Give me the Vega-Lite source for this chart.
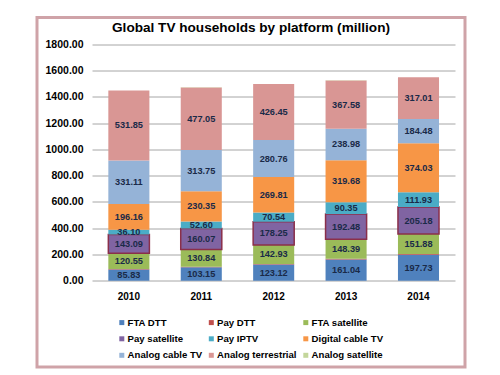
{
  "$schema": "https://vega.github.io/schema/vega-lite/v6.json",
  "width": 428,
  "height": 349.5,
  "autosize": "none",
  "padding": {"left": 37, "top": 17.5, "right": 35, "bottom": 8},
  "background": "white",
  "title": {
    "text": "Global TV households by platform (million)",
    "frame": "group",
    "anchor": "middle",
    "offset": -17,
    "font": "Liberation Sans",
    "fontSize": 13.6,
    "fontWeight": "bold",
    "color": "black"
  },
  "config": {
    "view": {"stroke": "#cfa3a8", "strokeWidth": 3, "fill": "white"},
    "font": "Liberation Sans"
  },
  "data": {
    "values": [
      {"year": "2010", "platform": "FTA DTT", "value": 85.83, "order": 1},
      {"year": "2010", "platform": "Pay DTT", "value": 3, "order": 2},
      {"year": "2010", "platform": "FTA satellite", "value": 120.55, "order": 3},
      {"year": "2010", "platform": "Pay satellite", "value": 143.09, "order": 4},
      {"year": "2010", "platform": "Pay IPTV", "value": 36.10, "order": 5},
      {"year": "2010", "platform": "Digital cable TV", "value": 196.16, "order": 6},
      {"year": "2010", "platform": "Analog cable TV", "value": 331.11, "order": 7},
      {"year": "2010", "platform": "Analog terrestrial", "value": 531.85, "order": 8},
      {"year": "2010", "platform": "Analog satellite", "value": 1, "order": 9},
      {"year": "2011", "platform": "FTA DTT", "value": 103.15, "order": 1},
      {"year": "2011", "platform": "Pay DTT", "value": 4, "order": 2},
      {"year": "2011", "platform": "FTA satellite", "value": 130.84, "order": 3},
      {"year": "2011", "platform": "Pay satellite", "value": 160.07, "order": 4},
      {"year": "2011", "platform": "Pay IPTV", "value": 52.60, "order": 5},
      {"year": "2011", "platform": "Digital cable TV", "value": 230.35, "order": 6},
      {"year": "2011", "platform": "Analog cable TV", "value": 313.75, "order": 7},
      {"year": "2011", "platform": "Analog terrestrial", "value": 477.05, "order": 8},
      {"year": "2011", "platform": "Analog satellite", "value": 1, "order": 9},
      {"year": "2012", "platform": "FTA DTT", "value": 123.12, "order": 1},
      {"year": "2012", "platform": "Pay DTT", "value": 5, "order": 2},
      {"year": "2012", "platform": "FTA satellite", "value": 142.93, "order": 3},
      {"year": "2012", "platform": "Pay satellite", "value": 178.25, "order": 4},
      {"year": "2012", "platform": "Pay IPTV", "value": 70.54, "order": 5},
      {"year": "2012", "platform": "Digital cable TV", "value": 269.81, "order": 6},
      {"year": "2012", "platform": "Analog cable TV", "value": 280.76, "order": 7},
      {"year": "2012", "platform": "Analog terrestrial", "value": 426.45, "order": 8},
      {"year": "2012", "platform": "Analog satellite", "value": 1, "order": 9},
      {"year": "2013", "platform": "FTA DTT", "value": 161.04, "order": 1},
      {"year": "2013", "platform": "Pay DTT", "value": 6, "order": 2},
      {"year": "2013", "platform": "FTA satellite", "value": 148.39, "order": 3},
      {"year": "2013", "platform": "Pay satellite", "value": 192.48, "order": 4},
      {"year": "2013", "platform": "Pay IPTV", "value": 90.35, "order": 5},
      {"year": "2013", "platform": "Digital cable TV", "value": 319.68, "order": 6},
      {"year": "2013", "platform": "Analog cable TV", "value": 238.98, "order": 7},
      {"year": "2013", "platform": "Analog terrestrial", "value": 367.58, "order": 8},
      {"year": "2013", "platform": "Analog satellite", "value": 1, "order": 9},
      {"year": "2014", "platform": "FTA DTT", "value": 197.73, "order": 1},
      {"year": "2014", "platform": "Pay DTT", "value": 6, "order": 2},
      {"year": "2014", "platform": "FTA satellite", "value": 151.88, "order": 3},
      {"year": "2014", "platform": "Pay satellite", "value": 205.18, "order": 4},
      {"year": "2014", "platform": "Pay IPTV", "value": 111.93, "order": 5},
      {"year": "2014", "platform": "Digital cable TV", "value": 374.03, "order": 6},
      {"year": "2014", "platform": "Analog cable TV", "value": 184.48, "order": 7},
      {"year": "2014", "platform": "Analog terrestrial", "value": 317.01, "order": 8},
      {"year": "2014", "platform": "Analog satellite", "value": 1, "order": 9}
    ]
  },
  "encoding": {
    "x": {
      "field": "year",
      "type": "nominal",
      "scale": {"paddingInner": 0.433, "paddingOuter": 0.672, "align": 0.733},
      "axis": {
        "orient": "bottom",
        "offset": -86,
        "domain": false,
        "ticks": false,
        "labelAngle": 0,
        "labelPadding": 10,
        "labelFont": "Liberation Sans",
        "labelFontSize": 10,
        "labelFontWeight": "bold",
        "labelColor": "black",
        "title": null
      }
    },
    "y": {
      "field": "value",
      "type": "quantitative",
      "stack": "zero",
      "scale": {"domain": [-657, 2004], "nice": false, "zero": false},
      "axis": {
        "orient": "left",
        "offset": -55,
        "values": [0, 200, 400, 600, 800, 1000, 1200, 1400, 1600, 1800],
        "format": ".2f",
        "domain": false,
        "grid": false,
        "ticks": true,
        "tickSize": -363,
        "tickColor": "#a6a6a6",
        "tickWidth": 1,
        "labelPadding": 372,
        "labelFont": "Liberation Sans",
        "labelFontSize": 10.5,
        "labelFontWeight": "bold",
        "labelColor": "black",
        "title": null
      }
    },
    "order": {"field": "order", "type": "quantitative"}
  },
  "layer": [
    {
      "mark": {"type": "bar", "stroke": "#8a2f4a"},
      "encoding": {
        "color": {
          "field": "platform",
          "type": "nominal",
          "scale": {
            "domain": ["FTA DTT", "Pay DTT", "FTA satellite", "Pay satellite", "Pay IPTV", "Digital cable TV", "Analog cable TV", "Analog terrestrial", "Analog satellite"],
            "range": ["#4F81BD", "#C0504D", "#9BBB59", "#8064A2", "#4BACC6", "#F79646", "#95B3D7", "#D99694", "#C3D69B"]
          },
          "legend": {
            "orient": "none",
            "direction": "horizontal",
            "legendX": 80,
            "legendY": 300,
            "columns": 3,
            "gridAlign": "each",
            "columnPadding": 3.5,
            "rowPadding": 5.5,
            "padding": 0,
            "title": null,
            "symbolType": "square",
            "symbolSize": 25,
            "symbolStrokeWidth": 0,
            "labelOffset": 1,
            "labelFont": "Liberation Sans",
            "labelFontSize": 9.6,
            "labelFontWeight": "bold",
            "labelColor": "black",
            "labelLimit": 200
          }
        },
        "strokeWidth": {
          "condition": {"test": "datum.platform === 'Pay satellite'", "value": 1.5},
          "value": 0
        }
      }
    },
    {
      "mark": {"type": "text", "font": "Liberation Sans", "fontSize": 9.2, "fontWeight": "bold", "color": "#1a2a48", "baseline": "middle"},
      "encoding": {
        "y": {"field": "value", "type": "quantitative", "stack": "zero", "bandPosition": 0.5},
        "text": {
          "condition": {"test": "datum.platform === 'Pay DTT' || datum.platform === 'Analog satellite'", "value": ""},
          "field": "value",
          "type": "quantitative",
          "format": ".2f"
        }
      }
    }
  ]
}
